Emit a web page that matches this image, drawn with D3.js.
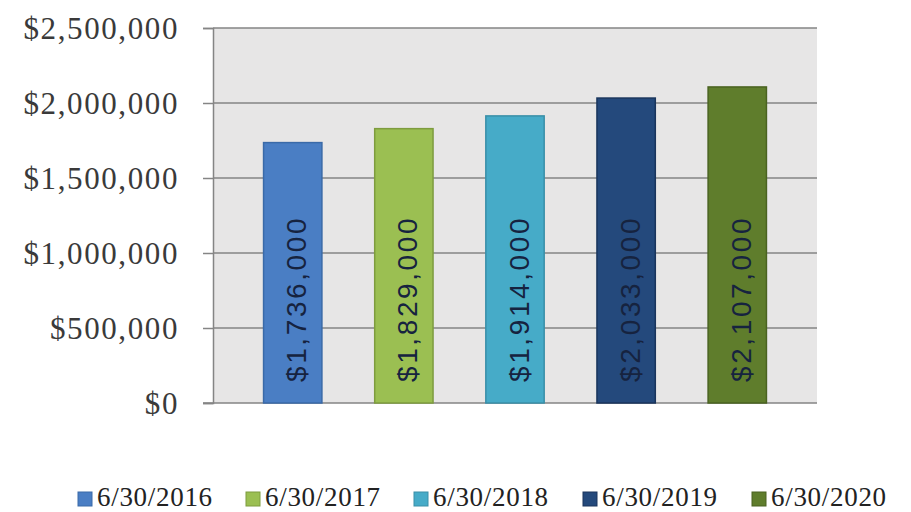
<!DOCTYPE html>
<html>
<head>
<meta charset="utf-8">
<script src="https://cdn.jsdelivr.net/npm/d3@7"></script>
<style>
  html, body { margin: 0; padding: 0; background: #fff; }
  svg { display: block; }
</style>
</head>
<body>
<svg id="chart" width="911" height="512"></svg>
<script>
const categories = ["6/30/2016", "6/30/2017", "6/30/2018", "6/30/2019", "6/30/2020"];
const values = [1736000, 1829000, 1914000, 2033000, 2107000];
const labels = ["$1,736,000", "$1,829,000", "$1,914,000", "$2,033,000", "$2,107,000"];
const yTicks = [0, 500000, 1000000, 1500000, 2000000, 2500000];
const yTickLabels = ["$0", "$500,000", "$1,000,000", "$1,500,000", "$2,000,000", "$2,500,000"];
const colors = ["#4a7ec4", "#9bbf52", "#46abc8", "#24497c", "#5f7d2c"];
const strokes = ["#3a6aa8", "#7e9c3e", "#3a8fa8", "#1a355c", "#4a6320"];

(function () {
const svg = d3.select("#chart");
const pLeft = 213, pRight = 817, pTop = 28, pBottom = 403;

const y = d3.scaleLinear().domain([0, 2500000]).range([pBottom, pTop]);
const x = d3.scaleBand().domain(categories).range([pLeft, pRight]).paddingInner(0.475).paddingOuter(0.455);

// plot background
svg.append("rect").attr("x", pLeft).attr("y", pTop).attr("width", pRight - pLeft).attr("height", pBottom - pTop).attr("fill", "#e7e6e6");

// gridlines
svg.append("g").selectAll("line").data(yTicks).join("line")
  .attr("x1", d => d === 0 ? pLeft - 10 : pLeft).attr("x2", pRight)
  .attr("y1", d => y(d)).attr("y2", d => y(d))
  .attr("stroke", "#858585").attr("stroke-width", 1.5);

// y axis
const yAxis = d3.axisLeft(y).tickValues(yTicks).tickSize(10).tickFormat((d, i) => yTickLabels[i]).tickPadding(24);
const ga = svg.append("g").attr("transform", `translate(${pLeft},0)`).call(yAxis);
ga.select(".domain").attr("stroke", "#858585").attr("stroke-width", 1.5);
ga.selectAll(".tick line").attr("stroke", "#858585").attr("stroke-width", 1.5);
ga.selectAll(".tick text")
  .attr("fill", "#3a3a3a")
  .style("font-family", "'Liberation Serif', 'Times New Roman', serif")
  .style("font-size", "31px")
  .style("letter-spacing", "1.6px")
  .attr("dy", "0.33em");

// bars
svg.append("g").selectAll("rect").data(values).join("rect")
  .attr("x", (d, i) => x(categories[i]))
  .attr("y", d => y(d))
  .attr("width", x.bandwidth())
  .attr("height", d => y(0) - y(d))
  .attr("fill", (d, i) => colors[i])
  .attr("stroke", (d, i) => strokes[i])
  .attr("stroke-width", 1.5);

// bar labels (inside base, rotated)
svg.append("g").selectAll("text").data(values).join("text")
  .attr("transform", (d, i) => `translate(${x(categories[i]) + x.bandwidth() / 2 + 4},${y(0) - 21}) rotate(-90)`)
  .attr("text-anchor", "start")
  .attr("dominant-baseline", "central")
  .attr("fill", "#16233f")
  .style("font-family", "'Liberation Sans', Arial, sans-serif")
  .style("font-size", "28px")
  .style("letter-spacing", "2.6px")
  .text((d, i) => labels[i]);

// legend
const legendX = [78, 246, 414, 583, 752];
const lg = svg.append("g").selectAll("g").data(categories).join("g")
  .attr("transform", (d, i) => `translate(${legendX[i]},0)`);
lg.append("rect").attr("x", 0).attr("y", 492).attr("width", 14).attr("height", 14)
  .attr("fill", (d, i) => colors[i]).attr("stroke", (d, i) => strokes[i]).attr("stroke-width", 1);
lg.append("text").attr("x", 19).attr("y", 497).attr("dominant-baseline", "central")
  .attr("fill", "#222")
  .style("font-family", "'Liberation Serif', 'Times New Roman', serif")
  .style("font-size", "27px")
  .style("letter-spacing", "0.7px")
  .text(d => d);
})();
</script>
</body>
</html>
